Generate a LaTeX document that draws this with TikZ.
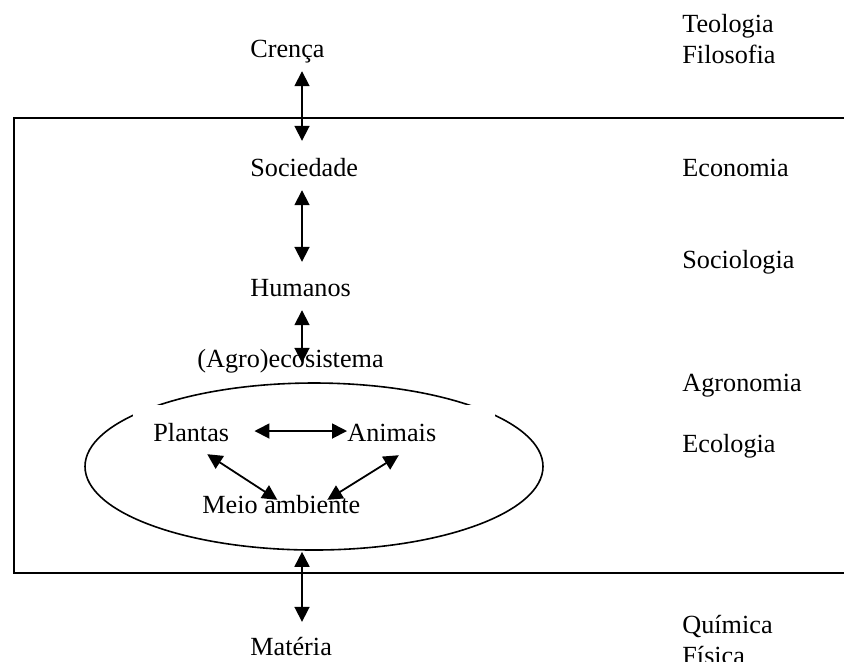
\documentclass[tikz,border=0pt]{standalone}
\usepackage{fontspec}
\setmainfont{Liberation Serif}
\usetikzlibrary{arrows.meta,shapes.geometric}

\begin{document}
\begin{tikzpicture}[x=0.5pt,y=-0.5pt]
  \tikzset{lbl/.style={anchor=base west,inner sep=0pt,text height=8.9pt,text depth=2.9pt,
      font=\fontsize{13.1}{15}\selectfont},
    dbl/.style={{Triangle[length=7.5pt,width=7.5pt]}-{Triangle[length=7.5pt,width=7.5pt]},line width=0.9pt}}
  \useasboundingbox (0,0) rectangle (844,661);
  \draw[line width=1.2pt] (14,118) rectangle (870,573);
  \node[draw,ellipse,line width=0.8pt,minimum width=229pt,minimum height=83.5pt,inner sep=0pt] (eco) at (314,466.5) {};
  \fill[white] (133,405) rectangle (495,430);
  % levels
  \node[lbl] (crenca) at (250,57) {Crença};
  \node[lbl] (sociedade) at (250,176) {Sociedade};
  \node[lbl] (humanos) at (250,296) {Humanos};
  \node[lbl] (agro) at (197,367) {(Agro)ecosistema};
  \node[lbl] (plantas) at (153,441) {Plantas};
  \node[lbl] (animais) at (347,441) {Animais};
  \node[lbl] (meio) at (202,513) {Meio ambiente};
  \node[lbl] (materia) at (250,655) {Matéria};
  % disciplines
  \node[lbl] (teologia) at (682,32) {Teologia};
  \node[lbl] (filosofia) at (682,63) {Filosofia};
  \node[lbl] (economia) at (682,176) {Economia};
  \node[lbl] (sociologia) at (682,268) {Sociologia};
  \node[lbl] (agronomia) at (682,391) {Agronomia};
  \node[lbl] (ecologia) at (682,452) {Ecologia};
  \node[lbl] (quimica) at (682,633) {Química};
  \node[lbl] (fisica) at (682,664) {Física};
  % arrows
  \coordinate (axis) at (302,0);
  \draw[dbl,shorten <=4pt,shorten >=8.5pt] (crenca.south -| axis) -- (sociedade.north -| axis);
  \draw[dbl,shorten <=4pt,shorten >=8pt] (sociedade.south -| axis) -- (humanos.north -| axis);
  \draw[dbl,shorten <=4pt,shorten >=-7pt] (humanos.south -| axis) -- (agro.north -| axis);
  \draw[dbl,shorten <=0.5pt,shorten >=7.5pt] (eco.south -| axis) -- (materia.north -| axis);
  \draw[dbl,shorten <=12.5pt] ([yshift=2pt]plantas.east) -- ([yshift=2pt]animais.west);
  \draw[dbl] ([xshift=8pt,yshift=-3.5pt]plantas.south) -- ([xshift=-2pt,yshift=-2.5pt]meio.north);
  \draw[dbl] ([xshift=3.5pt,yshift=-4pt]animais.south) -- ([xshift=23pt,yshift=-2.5pt]meio.north);
\end{tikzpicture}
\end{document}
